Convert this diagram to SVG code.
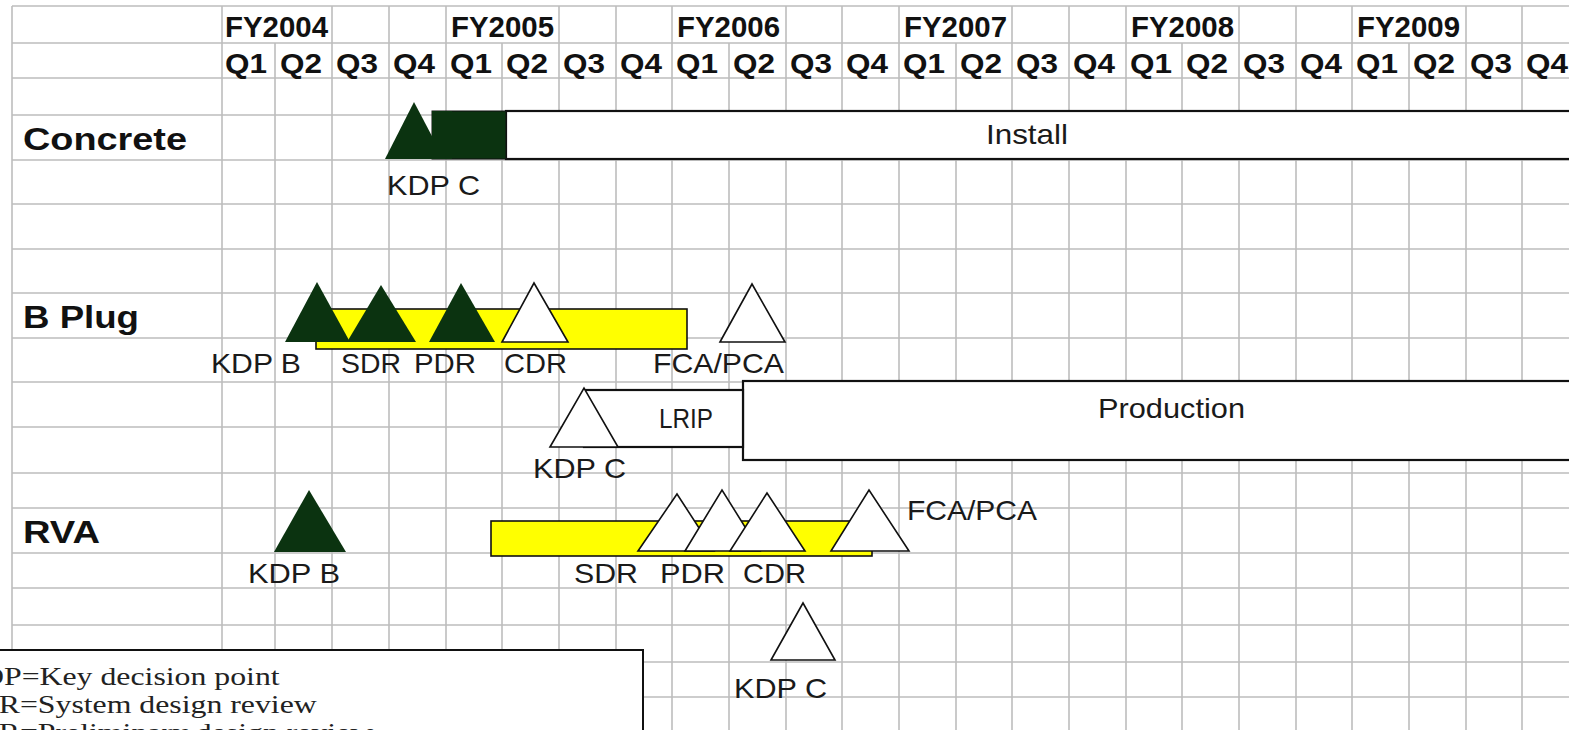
<svg xmlns="http://www.w3.org/2000/svg" width="1569" height="730" viewBox="0 0 1569 730">
<style>
.g line{stroke:#bdbdbd;stroke-width:1.6}
.hd{font-family:"Liberation Sans",Arial,sans-serif;font-weight:bold;fill:#111}
.fy{font-size:30px}
.q{font-size:28px}
.row{font-size:31px}
.lb{font-family:"Liberation Sans",Arial,sans-serif;font-size:28px;fill:#1a1a1a}
.dk{fill:#0b3310}
.wt{fill:#fff;stroke:#111;stroke-width:1.6}
.yb{fill:#ffff00;stroke:#111;stroke-width:1.6}
.wb{fill:#fff;stroke:#111;stroke-width:2.2}
.lg{font-family:"Liberation Serif","Times New Roman",serif;font-size:26px;fill:#222}
</style>
<rect width="1569" height="730" fill="#fff"/>
<g id="grid" class="g">
<line x1="12" y1="6" x2="1569" y2="6"/>
<line x1="12" y1="43" x2="1569" y2="43"/>
<line x1="12" y1="78" x2="1569" y2="78"/>
<line x1="12" y1="115" x2="1569" y2="115"/>
<line x1="12" y1="160" x2="1569" y2="160"/>
<line x1="12" y1="204" x2="1569" y2="204"/>
<line x1="12" y1="249" x2="1569" y2="249"/>
<line x1="12" y1="293" x2="1569" y2="293"/>
<line x1="12" y1="338" x2="1569" y2="338"/>
<line x1="12" y1="382" x2="1569" y2="382"/>
<line x1="12" y1="427" x2="1569" y2="427"/>
<line x1="12" y1="473" x2="1569" y2="473"/>
<line x1="12" y1="508" x2="1569" y2="508"/>
<line x1="12" y1="553" x2="1569" y2="553"/>
<line x1="12" y1="588" x2="1569" y2="588"/>
<line x1="12" y1="625" x2="1569" y2="625"/>
<line x1="12" y1="662" x2="1569" y2="662"/>
<line x1="12" y1="697" x2="1569" y2="697"/>
<line x1="12" y1="6" x2="12" y2="730"/>
<line x1="222" y1="6" x2="222" y2="730"/>
<line x1="275" y1="43" x2="275" y2="730"/>
<line x1="332" y1="6" x2="332" y2="730"/>
<line x1="389" y1="6" x2="389" y2="730"/>
<line x1="446" y1="6" x2="446" y2="730"/>
<line x1="502" y1="43" x2="502" y2="730"/>
<line x1="559" y1="6" x2="559" y2="730"/>
<line x1="616" y1="6" x2="616" y2="730"/>
<line x1="672" y1="6" x2="672" y2="730"/>
<line x1="729" y1="43" x2="729" y2="730"/>
<line x1="786" y1="6" x2="786" y2="730"/>
<line x1="842" y1="6" x2="842" y2="730"/>
<line x1="899" y1="6" x2="899" y2="730"/>
<line x1="956" y1="43" x2="956" y2="730"/>
<line x1="1012" y1="6" x2="1012" y2="730"/>
<line x1="1069" y1="6" x2="1069" y2="730"/>
<line x1="1126" y1="6" x2="1126" y2="730"/>
<line x1="1182" y1="43" x2="1182" y2="730"/>
<line x1="1239" y1="6" x2="1239" y2="730"/>
<line x1="1296" y1="6" x2="1296" y2="730"/>
<line x1="1352" y1="6" x2="1352" y2="730"/>
<line x1="1409" y1="43" x2="1409" y2="730"/>
<line x1="1466" y1="6" x2="1466" y2="730"/>
<line x1="1522" y1="6" x2="1522" y2="730"/>
</g>
<g id="header" class="hd">
<text class="fy" x="225" y="37" textLength="103" lengthAdjust="spacingAndGlyphs">FY2004</text>
<text class="fy" x="451" y="37" textLength="103" lengthAdjust="spacingAndGlyphs">FY2005</text>
<text class="fy" x="677" y="37" textLength="103" lengthAdjust="spacingAndGlyphs">FY2006</text>
<text class="fy" x="904" y="37" textLength="103" lengthAdjust="spacingAndGlyphs">FY2007</text>
<text class="fy" x="1131" y="37" textLength="103" lengthAdjust="spacingAndGlyphs">FY2008</text>
<text class="fy" x="1357" y="37" textLength="103" lengthAdjust="spacingAndGlyphs">FY2009</text>
<text class="q" x="225" y="73" textLength="42" lengthAdjust="spacingAndGlyphs">Q1</text>
<text class="q" x="280" y="73" textLength="42" lengthAdjust="spacingAndGlyphs">Q2</text>
<text class="q" x="336" y="73" textLength="42" lengthAdjust="spacingAndGlyphs">Q3</text>
<text class="q" x="393" y="73" textLength="42" lengthAdjust="spacingAndGlyphs">Q4</text>
<text class="q" x="450" y="73" textLength="42" lengthAdjust="spacingAndGlyphs">Q1</text>
<text class="q" x="506" y="73" textLength="42" lengthAdjust="spacingAndGlyphs">Q2</text>
<text class="q" x="563" y="73" textLength="42" lengthAdjust="spacingAndGlyphs">Q3</text>
<text class="q" x="620" y="73" textLength="42" lengthAdjust="spacingAndGlyphs">Q4</text>
<text class="q" x="676" y="73" textLength="42" lengthAdjust="spacingAndGlyphs">Q1</text>
<text class="q" x="733" y="73" textLength="42" lengthAdjust="spacingAndGlyphs">Q2</text>
<text class="q" x="790" y="73" textLength="42" lengthAdjust="spacingAndGlyphs">Q3</text>
<text class="q" x="846" y="73" textLength="42" lengthAdjust="spacingAndGlyphs">Q4</text>
<text class="q" x="903" y="73" textLength="42" lengthAdjust="spacingAndGlyphs">Q1</text>
<text class="q" x="960" y="73" textLength="42" lengthAdjust="spacingAndGlyphs">Q2</text>
<text class="q" x="1016" y="73" textLength="42" lengthAdjust="spacingAndGlyphs">Q3</text>
<text class="q" x="1073" y="73" textLength="42" lengthAdjust="spacingAndGlyphs">Q4</text>
<text class="q" x="1130" y="73" textLength="42" lengthAdjust="spacingAndGlyphs">Q1</text>
<text class="q" x="1186" y="73" textLength="42" lengthAdjust="spacingAndGlyphs">Q2</text>
<text class="q" x="1243" y="73" textLength="42" lengthAdjust="spacingAndGlyphs">Q3</text>
<text class="q" x="1300" y="73" textLength="42" lengthAdjust="spacingAndGlyphs">Q4</text>
<text class="q" x="1356" y="73" textLength="42" lengthAdjust="spacingAndGlyphs">Q1</text>
<text class="q" x="1413" y="73" textLength="42" lengthAdjust="spacingAndGlyphs">Q2</text>
<text class="q" x="1470" y="73" textLength="42" lengthAdjust="spacingAndGlyphs">Q3</text>
<text class="q" x="1526" y="73" textLength="42" lengthAdjust="spacingAndGlyphs">Q4</text>
</g>
<g id="row-labels" class="hd row">
<text x="23" y="150" textLength="164" lengthAdjust="spacingAndGlyphs">Concrete</text>
<text x="23" y="328" textLength="116" lengthAdjust="spacingAndGlyphs">B Plug</text>
<text x="23" y="543" textLength="77" lengthAdjust="spacingAndGlyphs">RVA</text>
</g>
<g id="concrete-install">
<rect class="wb" x="506" y="111" width="1080" height="48"/>
<rect class="dk" x="432" y="111" width="74" height="48" stroke="#111" stroke-width="1"/>
<text class="lb" x="986" y="144" textLength="82" lengthAdjust="spacingAndGlyphs">Install</text>
</g>
<g id="concrete-kdpc">
<polygon class="dk" points="385,159 414,102 444,159"/>
<rect class="dk" x="432" y="111" width="20" height="48"/>
<text class="lb" x="387" y="195" textLength="93" lengthAdjust="spacingAndGlyphs">KDP C</text>
</g>
<g id="bplug-bar">
<rect class="yb" x="316" y="309" width="371" height="40"/>
</g>
<g id="bplug-kdpb">
<polygon class="dk" points="285,342 317,282 350,342"/>
<text class="lb" x="211" y="373" textLength="90" lengthAdjust="spacingAndGlyphs">KDP B</text>
</g>
<g id="bplug-sdr">
<polygon class="dk" points="347,342 381,285 416,342"/>
<text class="lb" x="341" y="373" textLength="60" lengthAdjust="spacingAndGlyphs">SDR</text>
</g>
<g id="bplug-pdr">
<polygon class="dk" points="429,342 461,283 495,342"/>
<text class="lb" x="414" y="373" textLength="62" lengthAdjust="spacingAndGlyphs">PDR</text>
</g>
<g id="bplug-cdr">
<polygon class="wt" points="502,342 534,283 568,342"/>
<text class="lb" x="504" y="373" textLength="63" lengthAdjust="spacingAndGlyphs">CDR</text>
</g>
<g id="bplug-fca">
<polygon class="wt" points="720,342 752,284 785,342"/>
<text class="lb" x="653" y="373" textLength="131" lengthAdjust="spacingAndGlyphs">FCA/PCA</text>
</g>
<g id="bplug-production">
<rect class="wb" x="743" y="381" width="840" height="79"/>
<text class="lb" x="1098" y="418" textLength="147" lengthAdjust="spacingAndGlyphs">Production</text>
</g>
<g id="bplug-lrip">
<rect class="wb" x="584" y="390" width="159" height="57"/>
<text class="lb" x="659" y="428" textLength="54" lengthAdjust="spacingAndGlyphs">LRIP</text>
</g>
<g id="bplug-kdpc">
<polygon class="wt" points="550,447 584,388 618,447"/>
<text class="lb" x="533" y="478" textLength="93" lengthAdjust="spacingAndGlyphs">KDP C</text>
</g>
<g id="rva-kdpb">
<polygon class="dk" points="274,552 309,490 346,552"/>
<text class="lb" x="248" y="583" textLength="92" lengthAdjust="spacingAndGlyphs">KDP B</text>
</g>
<g id="rva-bar">
<rect class="yb" x="491" y="521" width="381" height="35"/>
</g>
<g id="rva-sdr">
<polygon class="wt" points="638,551 677,494 714,551"/>
<text class="lb" x="574" y="583" textLength="64" lengthAdjust="spacingAndGlyphs">SDR</text>
</g>
<g id="rva-pdr">
<polygon class="wt" points="685,551 722,490 760,551"/>
<text class="lb" x="660" y="583" textLength="65" lengthAdjust="spacingAndGlyphs">PDR</text>
</g>
<g id="rva-cdr">
<polygon class="wt" points="730,551 767,493 805,551"/>
<text class="lb" x="743" y="583" textLength="63" lengthAdjust="spacingAndGlyphs">CDR</text>
</g>
<g id="rva-fca">
<polygon class="wt" points="831,551 869,490 909,551"/>
<text class="lb" x="907" y="520" textLength="130" lengthAdjust="spacingAndGlyphs">FCA/PCA</text>
</g>
<g id="rva-kdpc">
<polygon class="wt" points="771,660 803,603 835,660"/>
<text class="lb" x="734" y="698" textLength="93" lengthAdjust="spacingAndGlyphs">KDP C</text>
</g>
<g id="connectors"></g>
<g id="legend">
<rect x="-5" y="650" width="648" height="100" fill="#fff" stroke="#111" stroke-width="2"/>
<g transform="scale(1.223 1)">
<text class="lg" x="-34.3" y="685">KDP=Key decision point</text>
<text class="lg" x="-34.3" y="713">SDR=System design review</text>
<text class="lg" x="-34.3" y="741">PDR=Preliminary design review</text>
</g>
</g>
</svg>
